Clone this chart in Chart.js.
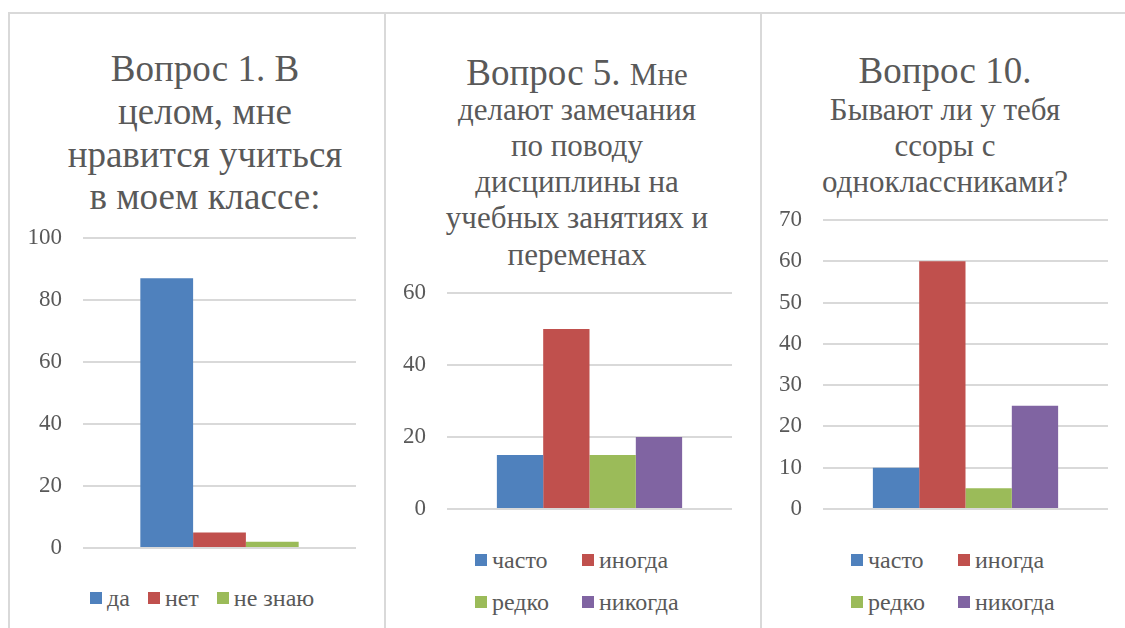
<!DOCTYPE html>
<html lang="ru">
<head>
<meta charset="utf-8">
<script src="https://cdn.jsdelivr.net/npm/chart.js@4.4.1/dist/chart.umd.min.js"></script>
<style>
  html, body { margin: 0; padding: 0; background: #fff; }
  body {
    width: 1125px; height: 628px; position: relative; overflow: hidden;
    font-family: 'Liberation Serif', 'Times New Roman', serif; color: #595959;
  }
  .panel {
    position: absolute; top: 12px; height: 640px; box-sizing: border-box;
    border-left: 2px solid #d9d9d9; border-top: 2px solid #d9d9d9;
  }
  .title { position: absolute; text-align: center; white-space: nowrap; }
  .title .big { font-size: 37px; }
  .title .small { font-size: 31px; }
  canvas { position: absolute; }
  .legend { position: absolute; display: grid; font-size: 24px; white-space: nowrap; }
  .legend .item { display: flex; align-items: center; height: 42px; }
  .legend .box { width: 12px; height: 12px; margin-right: 5px; flex: none; }
</style>
</head>
<body>

<div class="panel" style="left:8px; width:380px;"></div>
<div class="panel" style="left:384px; width:380px;"></div>
<div class="panel" style="left:760px; width:380px;"></div>

<div class="title" style="left:30px; width:350px; top:48px;">
  <div class="big" style="line-height:42.8px;">Вопрос 1. В</div>
  <div class="big" style="line-height:42.8px;">целом, мне</div>
  <div class="big" style="line-height:42.8px;">нравится учиться</div>
  <div class="big" style="line-height:42.8px;">в моем классе:</div>
</div>

<div class="title" style="left:400px; width:354px; top:53.5px;">
  <div class="big" style="line-height:38px;">Вопрос 5. <span style="font-size:31px; line-height:30px;">Мне</span></div>
  <div class="small" style="line-height:36.25px;">делают замечания</div>
  <div class="small" style="line-height:36.25px;">по поводу</div>
  <div class="small" style="line-height:36.25px;">дисциплины на</div>
  <div class="small" style="line-height:36.25px;">учебных занятиях и</div>
  <div class="small" style="line-height:36.25px;">переменах</div>
</div>

<div class="title" style="left:780px; width:330px; top:49.5px;">
  <div class="big" style="line-height:42px;">Вопрос 10.</div>
  <div class="small" style="line-height:36px;">Бывают ли у тебя</div>
  <div class="small" style="line-height:36px;">ссоры с</div>
  <div class="small" style="line-height:36px;">одноклассниками?</div>
</div>

<canvas id="chart1" width="374" height="370" style="left:10px; top:200px;"></canvas>
<canvas id="chart5" width="376" height="260" style="left:386px; top:270px;"></canvas>
<canvas id="chart10" width="362" height="330" style="left:763px; top:200px;"></canvas>

<div class="legend" id="legend1" style="left:90px; top:577px; grid-template-columns:auto auto auto; column-gap:18px;"></div>
<div class="legend" id="legend5" style="left:475px; top:539px; grid-template-columns:107px 107px;"></div>
<div class="legend" id="legend10" style="left:851px; top:539px; grid-template-columns:107px 107px;"></div>

<script>
// Вопрос 1
const q1Labels = ["да", "нет", "не знаю"];
const q1Values = [87, 5, 2];
const q1Ticks = [0, 20, 40, 60, 80, 100];

// Вопрос 5
const q5Labels = ["часто", "иногда", "редко", "никогда"];
const q5Values = [15, 50, 15, 20];
const q5Ticks = [0, 20, 40, 60];

// Вопрос 10
const q10Labels = ["часто", "иногда", "редко", "никогда"];
const q10Values = [10, 60, 5, 25];
const q10Ticks = [0, 10, 20, 30, 40, 50, 60, 70];

const palette = ["#4F81BD", "#C0504D", "#9BBB59", "#8064A2"];

Chart.defaults.font.family = "'Liberation Serif', 'Times New Roman', serif";
Chart.defaults.color = "#595959";

// legend drawn as html so the items can sit in Excel-like columns
const htmlLegend = {
    id: "htmlLegend",
    afterUpdate(chart, args, opts) {
        const box = document.getElementById(opts.containerID);
        box.innerHTML = "";
        const items = chart.options.plugins.legend.labels.generateLabels(chart);
        items.forEach(item => {
            const row = document.createElement("div");
            row.className = "item";
            const sw = document.createElement("span");
            sw.className = "box";
            sw.style.background = item.fillStyle;
            const tx = document.createElement("span");
            tx.textContent = item.text;
            row.appendChild(sw);
            row.appendChild(tx);
            box.appendChild(row);
        });
    }
};

function makeChart(id, legendId, labels, values, ticks, cfg) {
    const datasets = labels.map((l, i) => ({
        label: l,
        data: [values[i]],
        backgroundColor: palette[i],
        borderWidth: 0,
        categoryPercentage: cfg.catPct,
        barPercentage: 1
    }));

    return new Chart(document.getElementById(id), {
        type: "bar",
        data: { labels: [""], datasets },
        options: {
            responsive: false,
            animation: false,
            events: [],
            layout: { padding: cfg.padding },
            plugins: {
                legend: { display: false },
                tooltip: { enabled: false },
                htmlLegend: { containerID: legendId }
            },
            scales: {
                x: { display: false },
                y: {
                    min: ticks[0],
                    max: ticks[ticks.length - 1],
                    // gap between label and grid done with an invisible tick mark,
                    // tick padding would also push the chart area in
                    ticks: { stepSize: ticks[1] - ticks[0], padding: 0, color: "#595959", font: { size: 23 } },
                    grid: { color: "#d9d9d9", lineWidth: 2, drawTicks: true, tickLength: 21, tickColor: "rgba(0,0,0,0)" },
                    border: { display: false },
                    afterFit(scale) { scale.width = cfg.axisWidth; }
                }
            }
        },
        plugins: [htmlLegend]
    });
}

makeChart("chart1", "legend1", q1Labels, q1Values, q1Ticks, {
    catPct: 0.58, axisWidth: 73, padding: { top: 38, right: 28, bottom: 22, left: 0 }
});
makeChart("chart5", "legend5", q5Labels, q5Values, q5Ticks, {
    catPct: 0.65, axisWidth: 61, padding: { top: 23, right: 30, bottom: 21, left: 0 }
});
makeChart("chart10", "legend10", q10Labels, q10Values, q10Ticks, {
    catPct: 0.65, axisWidth: 60, padding: { top: 20, right: 17, bottom: 21, left: 0 }
});
</script>
</body>
</html>
